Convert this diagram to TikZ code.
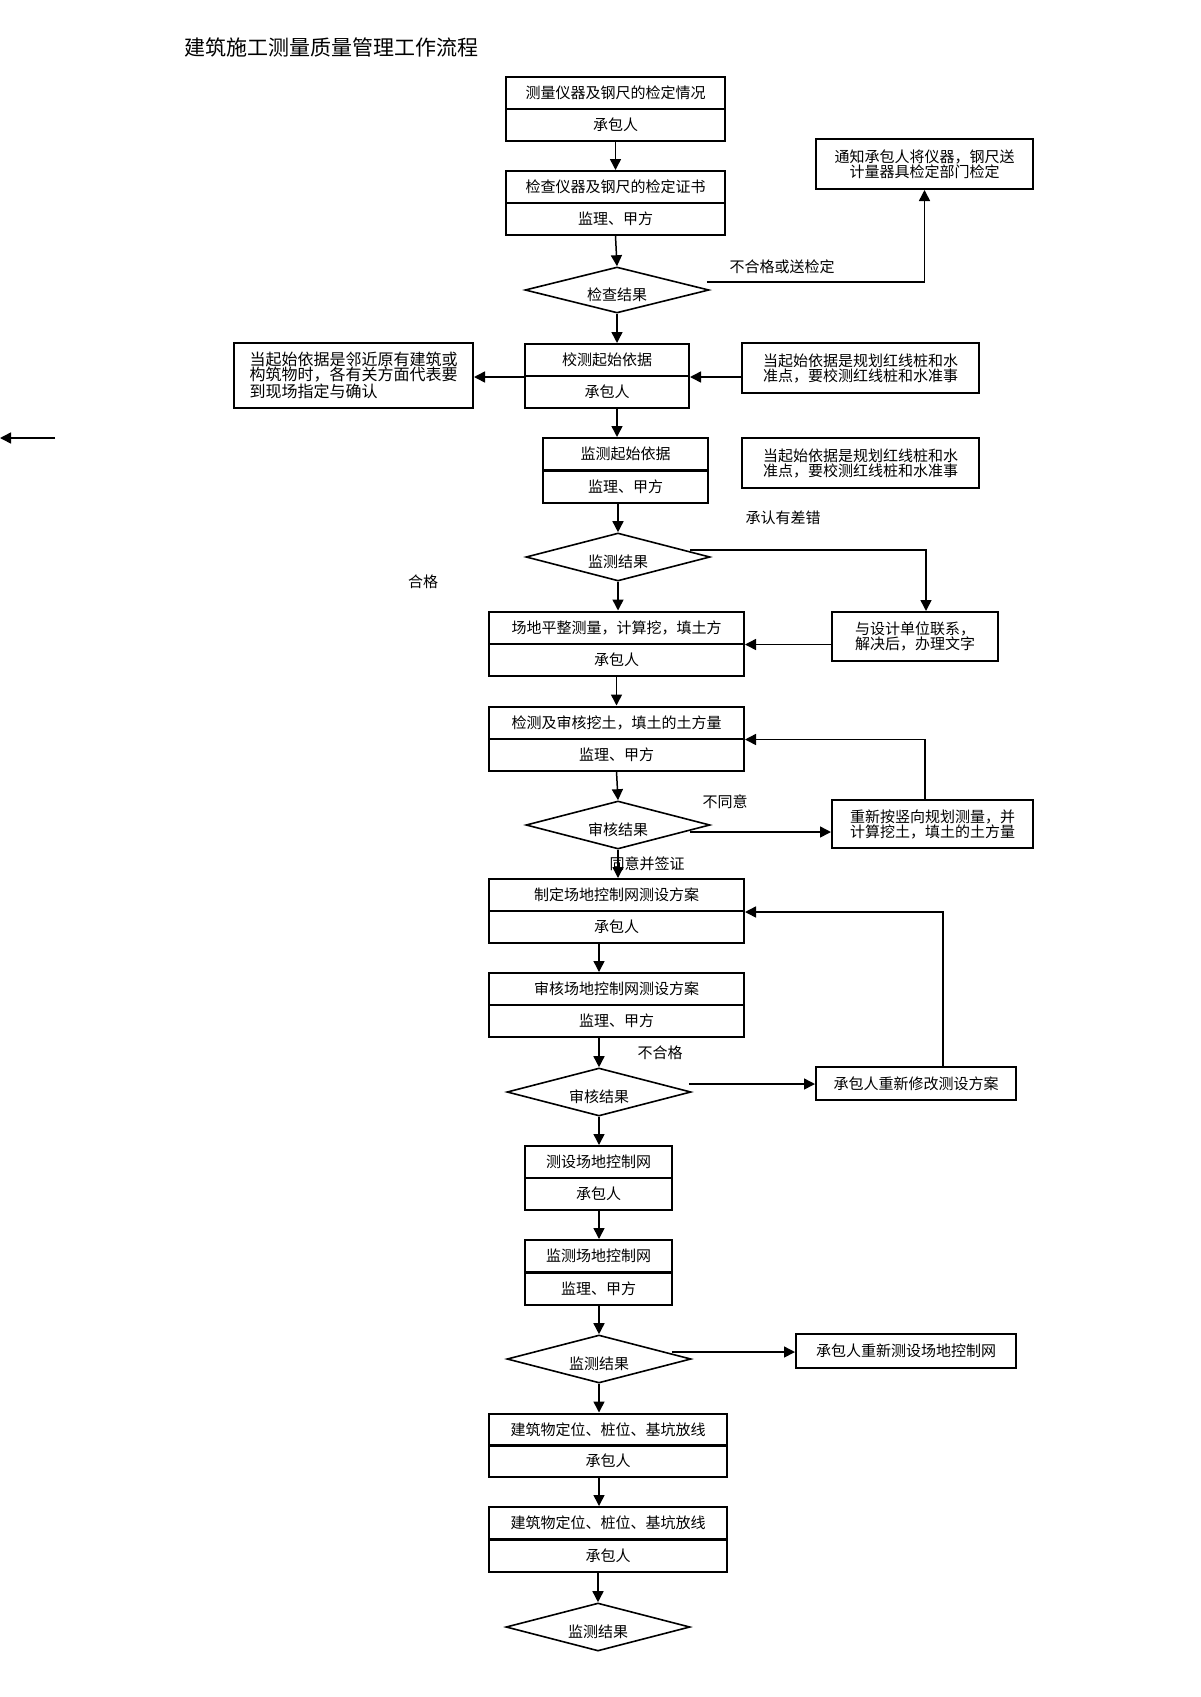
\documentclass[tikz,border=0pt]{standalone}
\usepackage{fontspec}
\setmainfont{Noto Sans CJK SC}
\usetikzlibrary{arrows.meta,shapes.geometric}
\begin{document}
\begin{tikzpicture}[x=0.5pt,y=-0.5pt,
        box/.style={draw,line width=1pt,inner sep=0pt,minimum height=16pt,font=\fontsize{7.5pt}{7.5pt}\selectfont},
        note/.style={draw,line width=1pt,inner sep=0pt,align=center,font=\fontsize{7.5pt}{7.5pt}\selectfont},
        test/.style={draw,diamond,aspect=3.8,line width=0.8pt,inner sep=0pt,minimum width=92pt,minimum height=24pt,text height=10pt,text depth=0pt,font=\fontsize{7.5pt}{7.5pt}\selectfont},
        lbl/.style={inner sep=0pt,font=\fontsize{7.5pt}{7.5pt}\selectfont},
        arr/.style={line width=0.75pt,-{Triangle[length=5.5pt,width=5.5pt]}}]
    \useasboundingbox (0,0) rectangle (1200,1697);
    \node[anchor=west,inner sep=0pt,font=\fontsize{10.5pt}{10.5pt}\selectfont] (title) at (184,47) {建筑施工测量质量管理工作流程};

    \node[box,minimum width=109.5pt] (t1) at (615.5,93) {测量仪器及钢尺的检定情况};
    \node[box,minimum width=109.5pt] (p1) at (615.5,125) {承包人};
    \node[box,minimum width=109.5pt] (t2) at (615.5,187) {检查仪器及钢尺的检定证书};
    \node[box,minimum width=109.5pt] (p2) at (615.5,219) {监理、甲方};
    \node[test,minimum height=23pt] (d1) at (617,290) {检查结果};
    \node[note,minimum width=108.5pt,minimum height=25pt] (n0) at (924.5,164) {通知承包人将仪器，钢尺送\\计量器具检定部门检定};

    \node[box,minimum width=82pt] (t3) at (607,360) {校测起始依据};
    \node[box,minimum width=82pt] (p3) at (607,392) {承包人};
    \node[note,align=left,minimum width=119.5pt,minimum height=32.5pt,font=\fontsize{8pt}{7.5pt}\selectfont] (n1) at (353.5,375.5) {当起始依据是邻近原有建筑或\\构筑物时，各有关方面代表要\\到现场指定与确认};
    \node[note,minimum width=118.5pt,minimum height=25pt] (n2) at (860.5,368) {当起始依据是规划红线桩和水\\准点，要校测红线桩和水准事};

    \node[box,minimum width=82.5pt] (t4) at (625.5,454) {监测起始依据};
    \node[box,minimum width=82.5pt] (p4) at (625.5,486.5) {监理、甲方};
    \node[note,minimum width=118.5pt,minimum height=25pt] (n3) at (860.5,463) {当起始依据是规划红线桩和水\\准点，要校测红线桩和水准事};
    \node[lbl] (l2) at (783,518) {承认有差错};
    \node[test] (d2) at (618,557) {监测结果};
    \node[lbl] (l3) at (423,582) {合格};
    \node[note,minimum width=83pt,minimum height=24.5pt] (n4) at (915,636.5) {与设计单位联系，\\解决后，办理文字};

    \node[box,minimum width=127.5pt] (t5) at (616.5,627.5) {场地平整测量，计算挖，填土方};
    \node[box,minimum width=127.5pt] (p5) at (616.5,659.5) {承包人};
    \node[box,minimum width=127.5pt] (t6) at (616.5,722.5) {检测及审核挖土，填土的土方量};
    \node[box,minimum width=127.5pt] (p6) at (616.5,754.5) {监理、甲方};
    \node[lbl] (l4) at (725,802) {不同意};
    \node[test] (d3) at (618,825) {审核结果};
    \node[note,minimum width=100.5pt,minimum height=24pt] (n5) at (932.5,824) {重新按竖向规划测量，并\\计算挖土，填土的土方量};
    \node[lbl] (l5) at (647,864) {同意并签证};

    \node[box,minimum width=127.5pt] (t7) at (616.5,895) {制定场地控制网测设方案};
    \node[box,minimum width=127.5pt] (p7) at (616.5,927) {承包人};
    \node[box,minimum width=127.5pt] (t8) at (616.5,989) {审核场地控制网测设方案};
    \node[box,minimum width=127.5pt] (p8) at (616.5,1021) {监理、甲方};
    \node[lbl] (l6) at (660,1053) {不合格};
    \node[test] (d4) at (599,1092) {审核结果};
    \node[note,minimum width=100pt,minimum height=16.5pt] (n6) at (916,1083.5) {承包人重新修改测设方案};

    \node[box,minimum width=73.5pt] (t9) at (598.5,1162) {测设场地控制网};
    \node[box,minimum width=73.5pt] (p9) at (598.5,1193.5) {承包人};
    \node[box,minimum width=73.5pt] (t10) at (598.5,1256) {监测场地控制网};
    \node[box,minimum width=73.5pt] (p10) at (598.5,1288.5) {监理、甲方};
    \node[test] (d5) at (599,1359) {监测结果};
    \node[note,minimum width=110pt,minimum height=17pt] (n7) at (906,1351) {承包人重新测设场地控制网};

    \node[box,minimum width=119pt] (t11) at (608,1429.5) {建筑物定位、桩位、基坑放线};
    \node[box,minimum width=119pt] (p11) at (608,1461) {承包人};
    \node[box,minimum width=119pt] (t12) at (608,1523) {建筑物定位、桩位、基坑放线};
    \node[box,minimum width=119pt] (p12) at (608,1555.5) {承包人};
    \node[test] (d6) at (598,1627) {监测结果};

    \node[lbl] (l1) at (782,267) {不合格或送检定};
    \coordinate (s1) at (55,438);
    \coordinate (s0) at (0,438);

    \draw[arr] (p1.south) -- (t2.north);
    \draw[arr] (p2.south) -- (d1.north);
    \draw[arr] ([xshift=-1.5pt,yshift=4pt]d1.east) -| (n0.south);
    \draw[arr] (d1.south) -- (d1.south |- t3.north);
    \draw[arr] (t3.south west) -- (n1.east |- t3.south);
    \draw[arr] (n2.west |- t3.south) -- (t3.south east);
    \draw[arr] (d1.south |- p3.south) -- (d1.south |- t4.north);
    \draw[arr] (s1) -- (s0);
    \draw[arr] (d2.north |- p4.south) -- (d2.north);
    \draw[arr] ([xshift=-10.5pt,yshift=3.5pt]d2.east) -| ([xshift=5.5pt]n4.north);
    \draw[arr] (d2.south) -- (d2.south |- t5.north);
    \draw[arr] (n4.west |- t5.south) -- (t5.south east);
    \draw[arr] (p5.south) -- (t6.north);
    \draw[arr] (p6.south) -- (d3.north);
    \draw[arr] ([xshift=-10.5pt,yshift=-3.5pt]d3.east) coordinate (a3) -- (a3 -| n5.west);
    \draw[arr] ([xshift=-3.75pt]n5.north) |- (t6.south east);
    \draw[arr] (d3.south) -- (d3.south |- t7.north);
    \draw[arr] (d4.north |- p7.south) -- (d4.north |- t8.north);
    \draw[arr] (d4.north |- p8.south) -- (d4.north);
    \draw[arr] ([xshift=-1.5pt,yshift=4pt]d4.east) coordinate (a4) -- (a4 -| n6.west);
    \draw[arr] ([xshift=13.5pt]n6.north) |- (t7.south east);
    \draw[arr] (d4.south) -- (d4.south |- t9.north);
    \draw[arr] (d4.south |- p9.south) -- (d4.south |- t10.north);
    \draw[arr] (d5.north |- p10.south) -- (d5.north);
    \draw[arr] ([xshift=-10pt,yshift=3.5pt]d5.east) coordinate (a5) -- (a5 -| n7.west);
    \draw[arr] (d5.south) -- (d5.south |- t11.north);
    \draw[arr] (d5.south |- p11.south) -- (d5.south |- t12.north);
    \draw[arr] (d6.north |- p12.south) -- (d6.north);
\end{tikzpicture}
\end{document}
